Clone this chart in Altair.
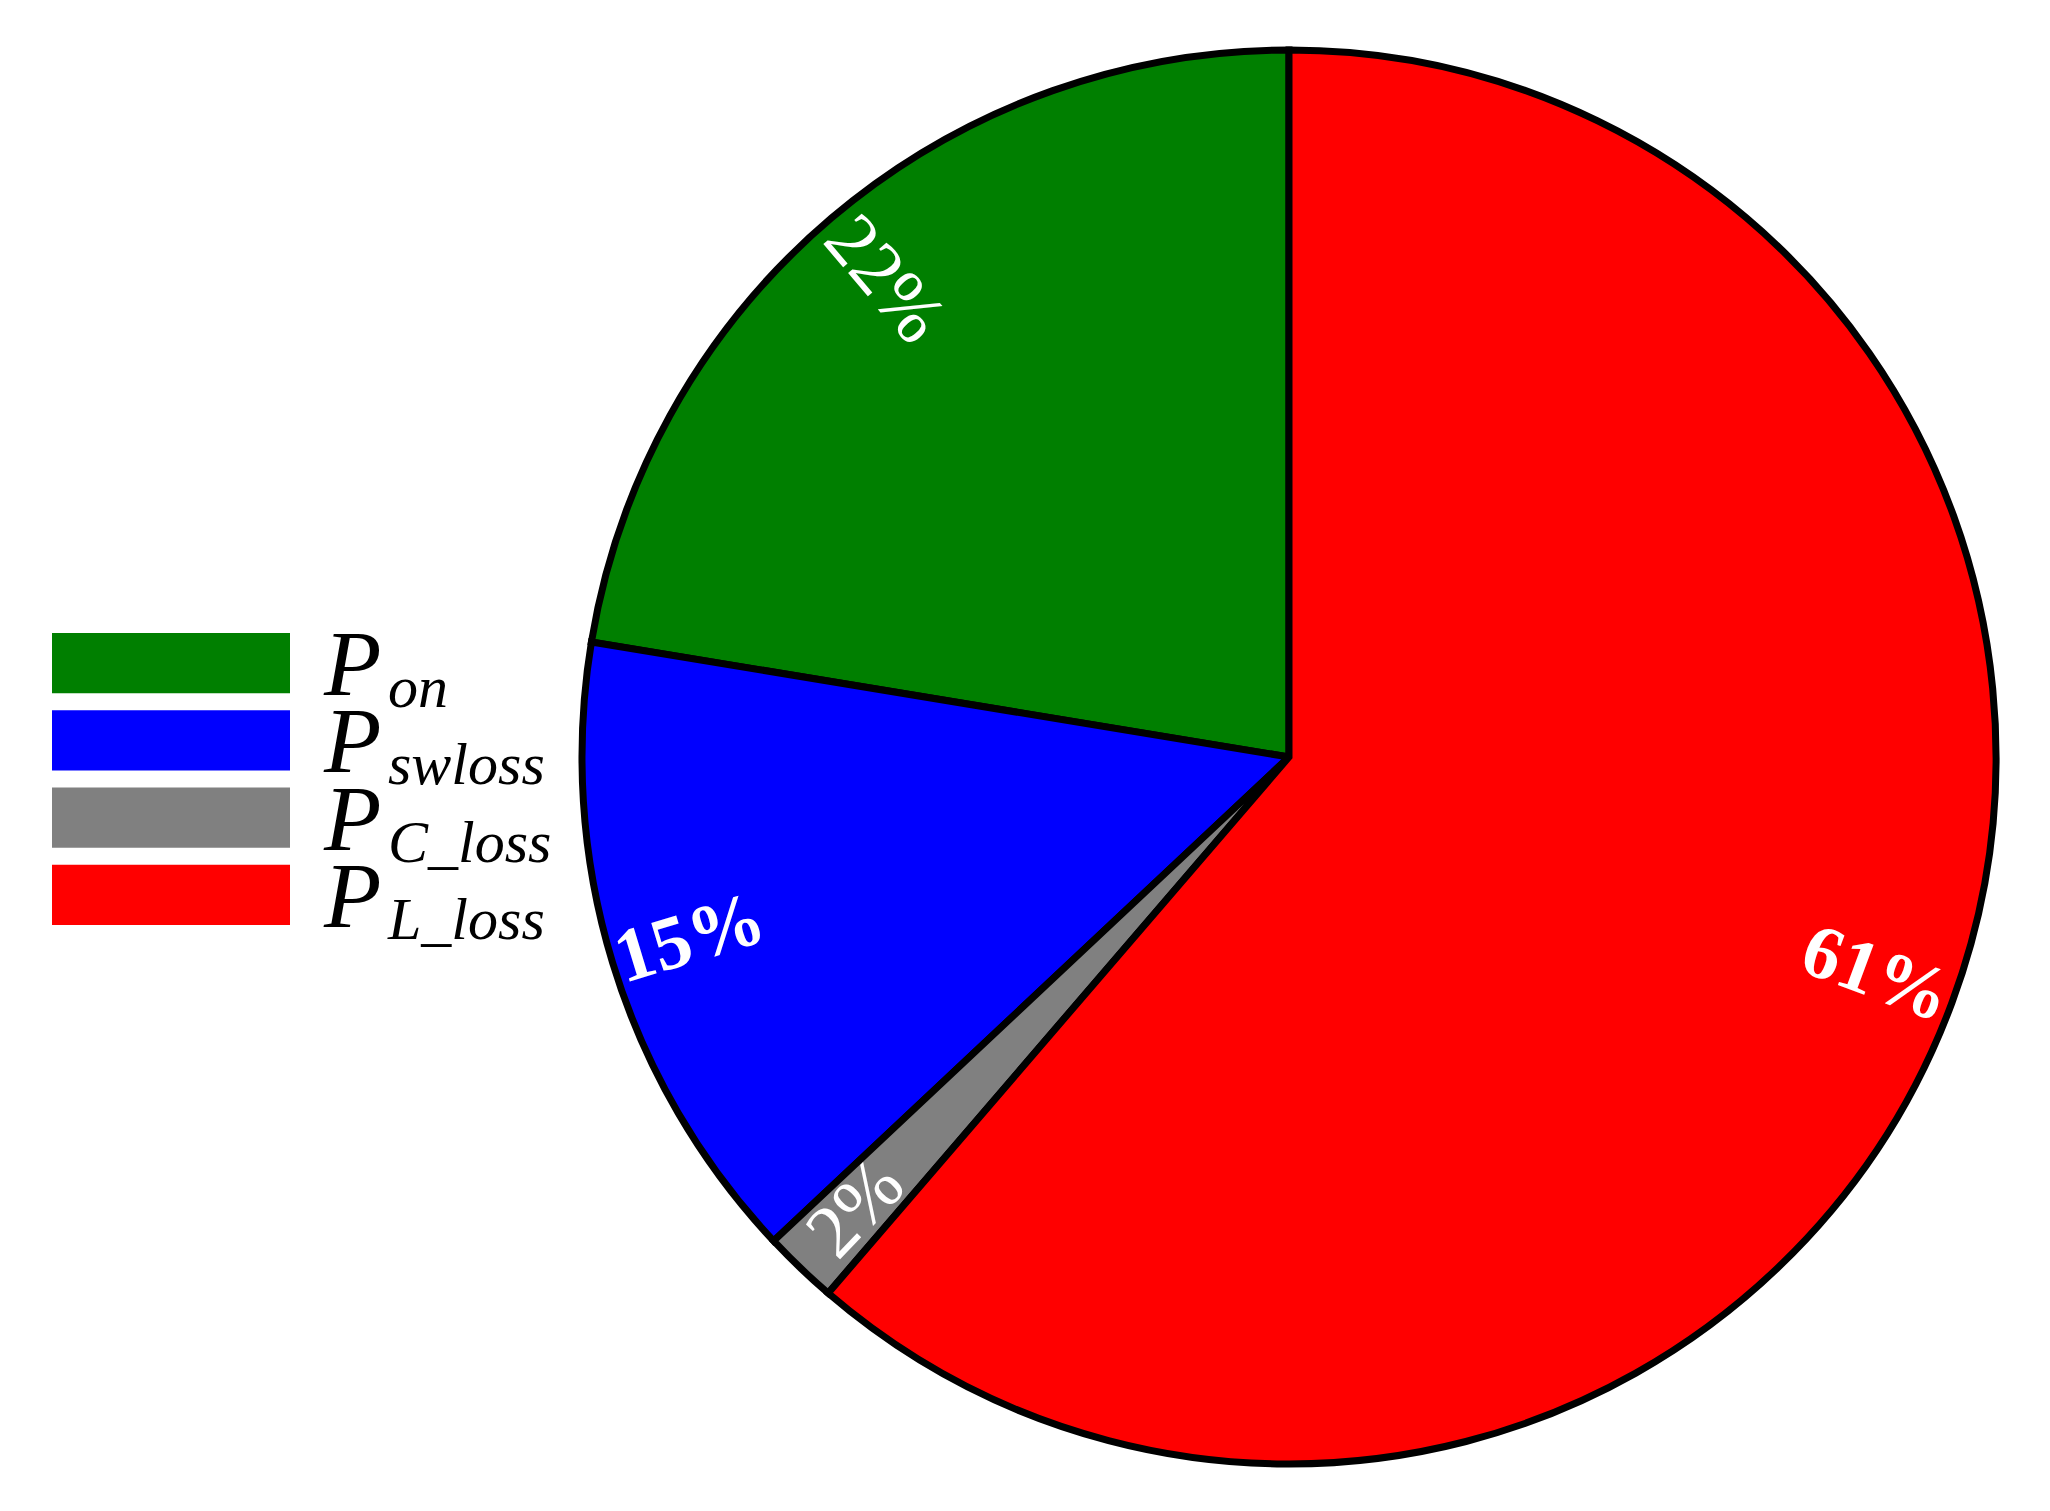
import altair as alt
import pandas as pd
import math

names = ["P_on", "P_swloss", "P_C_loss", "P_L_loss"]
subs = ["on", "swloss", "C_loss", "L_loss"]
values = [22.4, 14.6, 1.7, 61.3]
pct_labels = ["22%", "15%", "2%", "61%"]
stack_order = [4, 3, 2, 1]
colors = ["#007f00", "#0000ff", "#808080", "#ff0000"]
bold_labels = ["15%", "61%"]

df = pd.DataFrame({"name": names, "sub": subs, "value": values,
                   "pct": pct_labels, "ord": stack_order})

CX, CY, R = 1281, 749, 707
SERIF = "Liberation Serif, Times New Roman, Times, serif"
color = alt.Color("name:N", scale=alt.Scale(domain=names, range=colors), legend=None)

base = alt.Chart(df)

arcs = base.mark_arc(stroke="black", strokeWidth=7, outerRadius=R).encode(
    theta=alt.Theta("value:Q", stack=True),
    order=alt.Order("ord:Q"),
    color=color,
    x=alt.value(CX), y=alt.value(CY),
)

lab = base.transform_joinaggregate(total="sum(value)").transform_window(
    cum="sum(value)", sort=[alt.SortField("ord")], frame=[None, 0]
).transform_calculate(
    mid="(datum.cum - datum.value/2)/datum.total*360"
).transform_calculate(
    rot="(datum.mid < 180 ? datum.mid - 90 + 360 : datum.mid - 270 + 360) % 360"
)

def pct_layer(weight, test):
    return lab.transform_filter(test).mark_text(
        font=SERIF, fontSize=76, fontWeight=weight, color="white",
        align="center", baseline="middle", radius=626,
    ).encode(
        theta=alt.Theta("mid:Q", stack=None,
                        scale=alt.Scale(domain=[0, 360], range=[0, 2 * math.pi])),
        text="pct:N",
        angle=alt.Angle("rot:Q", scale=None),
        x=alt.value(CX), y=alt.value(CY),
    )

bold_test = alt.FieldOneOfPredicate(field="pct", oneOf=bold_labels)
pct_bold = pct_layer("bold", bold_test)
pct_norm = pct_layer("normal", {"not": bold_test})

yscale = alt.Scale(domain=names, range=[625, 917], paddingInner=0.22, paddingOuter=0)

leg_rect = base.mark_rect().encode(
    y=alt.Y("name:N", scale=yscale, axis=None),
    x=alt.value(44), x2=alt.value(282),
    color=color,
)
leg_p = base.mark_text(font=SERIF, fontSize=94, fontStyle="italic",
                       align="left", baseline="alphabetic", dy=32, color="black").encode(
    y=alt.Y("name:N", scale=yscale, axis=None),
    x=alt.value(316),
    text=alt.value("P"),
)
leg_sub = base.mark_text(font=SERIF, fontSize=60, fontStyle="italic",
                         align="left", baseline="alphabetic", dy=44, color="black").encode(
    y=alt.Y("name:N", scale=yscale, axis=None),
    x=alt.value(380),
    text="sub:N",
)

pie = alt.layer(arcs, pct_bold, pct_norm).resolve_scale(theta="independent")

chart = alt.layer(pie, leg_rect, leg_p, leg_sub).properties(
    width=2034, height=1495,
    autosize=alt.AutoSizeParams(type="none"),
    padding=0,
).configure_view(stroke=None)

chart.save("out.html", embed_options={"renderer": "svg", "actions": False})
